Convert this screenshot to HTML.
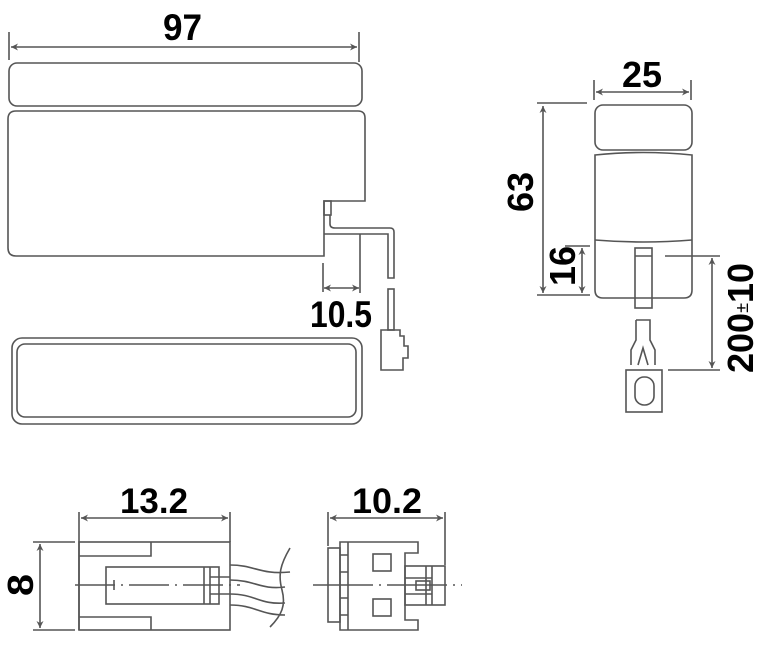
<!DOCTYPE html>
<html><head><meta charset="utf-8"><style>
html,body{margin:0;padding:0;background:#fff;}
svg{display:block}
text{font-family:"Liberation Sans",sans-serif;font-weight:bold;fill:#000}
</style></head><body>
<svg width="765" height="648" viewBox="0 0 765 648" xmlns="http://www.w3.org/2000/svg">
<defs>
<marker id="a" viewBox="0 0 10 10" refX="10" refY="5" markerWidth="9" markerHeight="7" orient="auto-start-reverse" markerUnits="userSpaceOnUse"><path d="M0,0 L10,5 L0,10 L3,5 Z" fill="#555"/></marker>
</defs>
<g fill="none" stroke="#555" stroke-width="1.6">
<line x1="9" y1="32" x2="9" y2="60"/><line x1="359" y1="32" x2="359" y2="62"/>
<line x1="11" y1="47" x2="357" y2="47" marker-start="url(#a)" marker-end="url(#a)"/>
<rect x="9" y="63" width="353" height="43" rx="8"/>
<path d="M16,111 H358 Q365,111 365,118 V201 H324 V256 H16 Q8,256 8,248 V119 Q8,111 16,111 Z"/>
<rect x="324" y="201" width="7" height="14"/>
<path d="M330,215 V224 Q330,228 335,228 H390 Q394,228 394,232 V278 H388 V234 H324"/>
<line x1="323" y1="263" x2="323" y2="292"/><line x1="360" y1="234" x2="360" y2="293"/>
<line x1="324" y1="288" x2="359" y2="288" marker-start="url(#a)" marker-end="url(#a)"/>
<rect x="388" y="289" width="6" height="41"/>
<path d="M384,330 H400 V336 H404 V346 H408 V358 H403 V370 H381 V330 Z"/>
<rect x="12" y="338" width="350" height="86" rx="10"/>
<rect x="17" y="344" width="339" height="73" rx="8"/>
<line x1="594" y1="80" x2="594" y2="100"/><line x1="691" y1="80" x2="691" y2="100"/>
<line x1="596" y1="92" x2="689" y2="92" marker-start="url(#a)" marker-end="url(#a)"/>
<rect x="595" y="105" width="97" height="45" rx="8"/>
<path d="M595,155 Q643,150 692,155 V290 Q692,298 684,298 H603 Q595,298 595,290 Z"/>
<path d="M595,240 Q643,244 692,240"/>
<rect x="635" y="248" width="17" height="60"/>
<line x1="635" y1="256" x2="652" y2="256"/>
<path d="M636,320 H650 V340 L655,350 V365 M636,320 V340 L631,350 V365 M638,365 L643,348 L648,365"/>
<rect x="626" y="370" width="36" height="42"/>
<rect x="635" y="377" width="19" height="28" rx="9"/>
<line x1="537" y1="103" x2="587" y2="103"/><line x1="537" y1="295" x2="590" y2="295"/>
<line x1="543" y1="106" x2="543" y2="293" marker-start="url(#a)" marker-end="url(#a)"/>
<line x1="565" y1="246" x2="590" y2="246"/>
<line x1="582" y1="248" x2="582" y2="293" marker-start="url(#a)" marker-end="url(#a)"/>
<line x1="665" y1="256" x2="720" y2="256"/><line x1="668" y1="370" x2="720" y2="370"/>
<line x1="712" y1="258" x2="712" y2="368" marker-start="url(#a)" marker-end="url(#a)"/>
<line x1="79" y1="512" x2="79" y2="630"/><line x1="230" y1="512" x2="230" y2="542"/>
<line x1="81" y1="518" x2="228" y2="518" marker-start="url(#a)" marker-end="url(#a)"/>
<rect x="79" y="542" width="151" height="88"/>
<path d="M79,556 H151 V542 M79,617 H151 V630"/>
<rect x="106" y="567" width="113" height="37"/>
<line x1="204" y1="567" x2="204" y2="604"/><line x1="210" y1="567" x2="210" y2="604"/>
<line x1="210" y1="577" x2="230" y2="577"/><line x1="210" y1="594" x2="230" y2="594"/>
<line x1="114" y1="580" x2="114" y2="590"/>
<line x1="75" y1="585" x2="240" y2="585" stroke-dasharray="40,6,2,6"/>
<path d="M230,565 C255,565 260,575 290,572 M230,580 C255,580 260,590 285,587 M230,594 C255,594 260,605 285,603 M230,605 C255,605 260,615 285,615 M290,548 C280,565 278,575 282,590 C286,605 282,615 270,627"/>
<line x1="33" y1="542" x2="75" y2="542"/><line x1="33" y1="630" x2="75" y2="630"/>
<line x1="40" y1="544" x2="40" y2="628" marker-start="url(#a)" marker-end="url(#a)"/>
<line x1="328" y1="512" x2="328" y2="546"/><line x1="445" y1="512" x2="445" y2="565"/>
<line x1="330" y1="518" x2="443" y2="518" marker-start="url(#a)" marker-end="url(#a)"/>
<path d="M340,542 H418 V553 H405 V620 H418 V630 H340 Z"/>
<rect x="328" y="548" width="12" height="74"/>
<path d="M348,542 V630 M340,555 H348 M340,572 H348 M340,598 H348 M340,615 H348"/>
<rect x="373" y="554" width="18" height="17"/><rect x="373" y="599" width="18" height="17"/>
<rect x="405" y="566" width="40" height="39"/>
<line x1="426" y1="566" x2="426" y2="605"/><line x1="432" y1="566" x2="432" y2="605"/>
<line x1="405" y1="578" x2="432" y2="578"/><line x1="405" y1="594" x2="432" y2="594"/>
<rect x="416" y="581" width="14" height="9"/>
<line x1="313" y1="585" x2="462" y2="585" stroke-dasharray="60,6,2,6"/>
</g>
<text x="163" y="40" font-size="37" textLength="39" lengthAdjust="spacingAndGlyphs">97</text>
<text x="310" y="327" font-size="37" textLength="62" lengthAdjust="spacingAndGlyphs">10.5</text>
<text x="622" y="87" font-size="36" textLength="40" lengthAdjust="spacingAndGlyphs">25</text>
<text transform="translate(533,212) rotate(-90)" font-size="36" textLength="40" lengthAdjust="spacingAndGlyphs">63</text>
<text transform="translate(575,286) rotate(-90)" font-size="36" textLength="40" lengthAdjust="spacingAndGlyphs">16</text>
<text transform="translate(753,373) rotate(-90)" font-size="36">200<tspan font-size="18" font-weight="normal" dy="-5">±</tspan><tspan dy="5">10</tspan></text>
<text x="120" y="513" font-size="35" textLength="68" lengthAdjust="spacingAndGlyphs">13.2</text>
<text x="352" y="513" font-size="35" textLength="70" lengthAdjust="spacingAndGlyphs">10.2</text>
<text transform="translate(33,596) rotate(-90)" font-size="36" textLength="22" lengthAdjust="spacingAndGlyphs">8</text>
</svg>
</body></html>
